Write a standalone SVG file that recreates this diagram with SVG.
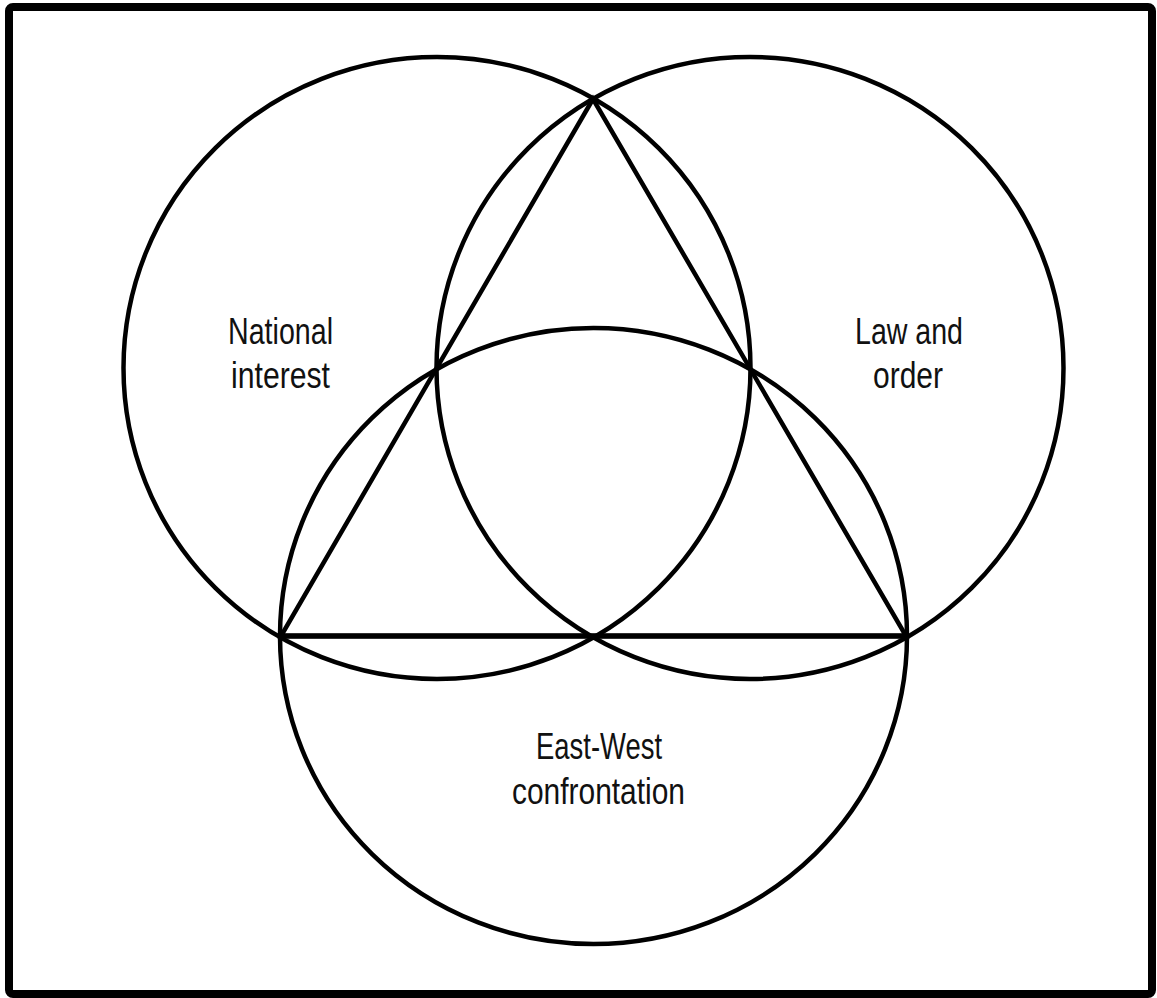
<svg xmlns="http://www.w3.org/2000/svg" width="1157" height="998" viewBox="0 0 1157 998">
  <style>
    .c { fill: none; stroke: #000; stroke-width: 4.5; }
    .t { fill: none; stroke: #000; stroke-width: 4.5; stroke-linejoin: miter; }
    .lbl { font-family: "Liberation Sans", Arial, sans-serif; font-size: 36px; fill: #111; }
  </style>
  <rect x="0" y="0" width="1157" height="998" fill="#fff"/>
  <rect id="frame" x="9" y="7" width="1143" height="987" rx="4" fill="#fff" stroke="#000" stroke-width="8"/>
  <g id="circle-national">
    <ellipse class="c" cx="437" cy="368" rx="313.5" ry="311"/>
    <text class="lbl" x="228" y="344" textLength="105" lengthAdjust="spacingAndGlyphs">National</text>
    <text class="lbl" x="231" y="388" textLength="99" lengthAdjust="spacingAndGlyphs">interest</text>
  </g>
  <g id="circle-law">
    <ellipse class="c" cx="750" cy="368" rx="313.5" ry="311"/>
    <text class="lbl" x="855" y="344" textLength="108" lengthAdjust="spacingAndGlyphs">Law and</text>
    <text class="lbl" x="873" y="388" textLength="70" lengthAdjust="spacingAndGlyphs">order</text>
  </g>
  <g id="circle-eastwest">
    <ellipse class="c" cx="593.5" cy="636" rx="313.5" ry="308"/>
    <text class="lbl" x="536" y="759" textLength="126" lengthAdjust="spacingAndGlyphs">East-West</text>
    <text class="lbl" x="512" y="804" textLength="173" lengthAdjust="spacingAndGlyphs">confrontation</text>
  </g>
  <g id="connectors">
    <polygon class="t" points="593,99 281,636 906,636"/>
    <line x1="281" y1="636" x2="906" y2="636" stroke="#000" stroke-width="5.5"/>
  </g>
</svg>
